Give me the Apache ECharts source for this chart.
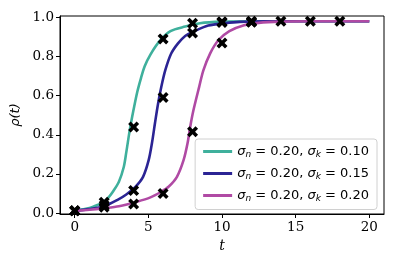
<!DOCTYPE html>
<html><head><meta charset="utf-8">
<script src="https://cdn.jsdelivr.net/npm/echarts@6/dist/echarts.min.js"></script>
<style>html,body{margin:0;padding:0;background:#fff}#c{width:397px;height:264px}</style>
</head><body><div id="c"></div>
<script>
const seriesNames = ['σn = 0.20, σk = 0.10', 'σn = 0.20, σk = 0.15', 'σn = 0.20, σk = 0.20'];
const colors = ['#3fb09c', '#2b2494', '#b04aa4'];
const xTicks = [0, 5, 10, 15, 20];
const yTicks = [0, 0.2, 0.4, 0.6, 0.8, 1.0];

// fitted curves
const curveT1 = [0, 1, 1.5, 2, 2.3, 2.6, 3.0, 3.33, 3.5, 3.75, 4.0, 4.25, 4.5, 4.75, 5.14, 5.8, 6.5, 7.5, 8.5, 10, 12, 20];
const curveY1 = [0.012, 0.025, 0.04, 0.058, 0.08, 0.11, 0.16, 0.235, 0.31, 0.43, 0.53, 0.62, 0.69, 0.75, 0.81, 0.882, 0.93, 0.953, 0.97, 0.978, 0.98, 0.98];
const curveT2 = [0, 1, 2, 2.88, 3.5, 4.12, 4.64, 5.02, 5.25, 5.45, 5.65, 5.88, 6.15, 6.55, 7.0, 7.5, 8.0, 9.07, 10.2, 11.2, 13, 20];
const curveY2 = [0.012, 0.02, 0.035, 0.066, 0.095, 0.134, 0.185, 0.27, 0.36, 0.46, 0.555, 0.645, 0.73, 0.815, 0.866, 0.905, 0.925, 0.958, 0.97, 0.977, 0.98, 0.98];
const curveT3 = [0, 1, 2, 3, 4.23, 5.14, 5.9, 6.37, 6.94, 7.39, 7.66, 7.84, 8.06, 8.45, 8.74, 9.19, 9.75, 10.5, 11.5, 12.5, 14, 16, 20];
const curveY3 = [0.012, 0.017, 0.025, 0.035, 0.058, 0.08, 0.11, 0.134, 0.185, 0.27, 0.356, 0.44, 0.525, 0.645, 0.73, 0.815, 0.883, 0.93, 0.96, 0.972, 0.978, 0.98, 0.98];

// observed points
const obsT1 = [0, 2, 4, 6, 8, 10, 12];
const obsY1 = [0.012, 0.055, 0.44, 0.89, 0.97, 0.978, 0.98];
const obsT2 = [0, 2, 4, 6, 8, 10, 12];
const obsY2 = [0.012, 0.04, 0.115, 0.59, 0.92, 0.974, 0.977];
const obsT3 = [0, 2, 4, 6, 8, 10, 12, 14, 16, 18];
const obsY3 = [0.012, 0.03, 0.046, 0.1, 0.415, 0.869, 0.975, 0.98, 0.98, 0.98];

const curvesT = [curveT1, curveT2, curveT3];
const curvesY = [curveY1, curveY2, curveY3];
const obsT = [obsT1, obsT2, obsT3];
const obsY = [obsY1, obsY2, obsY3];

const xMark = 'path://M2.3,0 L5,2.7 L7.7,0 L10,2.3 L7.3,5 L10,7.7 L7.7,10 L5,7.3 L2.3,10 L0,7.7 L2.7,5 L0,2.3 Z';

const series = [];
for (let i = 0; i < 3; i++) {
  series.push({
    name: seriesNames[i], type: 'line', smooth: 0.3, symbol: 'none',
    data: curvesT[i].map((t, j) => [t, curvesY[i][j]]),
    lineStyle: { color: colors[i], width: 2.6 }, itemStyle: { color: colors[i] }, z: 2
  });
}
for (let i = 0; i < 3; i++) {
  series.push({
    type: 'scatter', symbol: xMark, symbolSize: 11,
    data: obsT[i].map((t, j) => [t, obsY[i][j]]),
    itemStyle: { color: '#000', opacity: 1 }, z: 5, silent: true
  });
}

function legendFmt(name) {
  const m = name.match(/σn = ([\d.]+), σk = ([\d.]+)/);
  return '{i|σ}{s|n}{t| = ' + m[1] + ', }{i|σ}{s|k}{t| = ' + m[2] + '}';
}

const chart = echarts.init(document.getElementById('c'));
chart.setOption({
  animation: false,
  grid: { left: 60, right: 13, top: 16, bottom: 50, show: true, borderColor: '#000', borderWidth: 1, backgroundColor: 'transparent' },
  xAxis: {
    type: 'value', min: -1, max: 21,
    name: 't', nameLocation: 'middle', nameGap: 25,
    nameTextStyle: { fontFamily: 'DejaVu Serif', fontStyle: 'italic', fontSize: 14, color: '#000' },
    splitLine: { show: false },
    axisLine: { show: true, onZero: false, lineStyle: { color: '#000', width: 1 } },
    axisTick: { show: true, length: 4, lineStyle: { color: '#000' }, customValues: xTicks },
    axisLabel: { customValues: xTicks, fontFamily: 'DejaVu Serif', fontSize: 13.5, color: '#000', margin: 6 }
  },
  yAxis: {
    type: 'value', min: -0.005, max: 1.007,
    name: 'ρ(t)', nameLocation: 'middle', nameGap: 30,
    nameTextStyle: { fontFamily: 'DejaVu Sans', fontStyle: 'italic', fontSize: 13, color: '#000' },
    splitLine: { show: false },
    axisLine: { show: true, onZero: false, lineStyle: { color: '#000', width: 1 } },
    axisTick: { show: true, length: 4, lineStyle: { color: '#000' }, customValues: yTicks },
    axisLabel: { customValues: yTicks, fontFamily: 'DejaVu Serif', fontSize: 13.5, color: '#000', margin: 6,
      formatter: v => v.toFixed(1) }
  },
  legend: {
    data: seriesNames, orient: 'vertical', right: 20, top: 139,
    backgroundColor: 'rgba(255,255,255,0.85)', borderColor: '#d0d0d0', borderWidth: 1, borderRadius: 3,
    padding: [6, 8, 6, 8], itemGap: 7.5, itemWidth: 29, itemHeight: 3, icon: 'rect',
    formatter: legendFmt,
    textStyle: {
      color: '#000', fontFamily: 'DejaVu Sans', fontSize: 13,
      rich: {
        i: { fontFamily: 'DejaVu Sans', fontStyle: 'italic', fontSize: 13, color: '#000' },
        s: { fontFamily: 'DejaVu Sans', fontStyle: 'italic', fontSize: 9, color: '#000', padding: [7, 0, 0, 0] },
        t: { fontFamily: 'DejaVu Sans', fontSize: 13, color: '#000' }
      }
    }
  },
  series: series
});
</script></body></html>
